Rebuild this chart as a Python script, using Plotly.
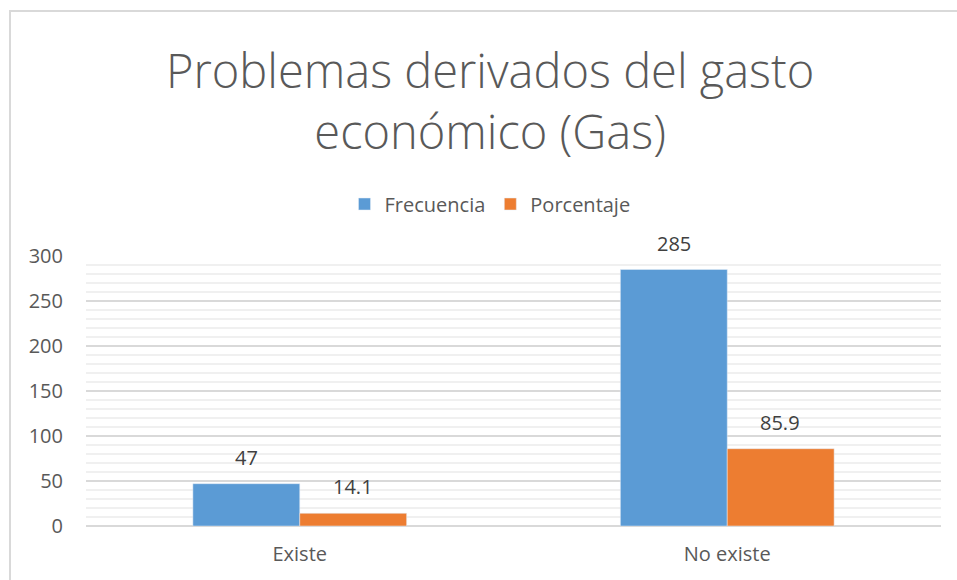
import plotly.graph_objects as go

categories = ["Existe", "No existe"]
frecuencia = [47, 285]
porcentaje = [14.1, 85.9]
freq_labels = ["47", "285"]
pct_labels = ["14.1", "85.9"]

BLUE = "#5B9BD5"
ORANGE = "#ED7D31"
TXT = "#595959"
FONT = "Open Sans"

W, H = 957, 580
L, R, T, B = 86, 16, 256, 54
pw = W - L - R
ph = H - T - B
Y0 = H - B  # pixel of y=0


def px_x(p):
    return (p - L) / pw


def px_y(p):
    return (Y0 - p) / ph


fig = go.Figure()
fig.add_trace(go.Bar(name="Frecuencia", x=categories, y=frecuencia, marker_color=BLUE))
fig.add_trace(go.Bar(name="Porcentaje", x=categories, y=porcentaje, marker_color=ORANGE))

annotations = []
for c, v, s in zip(categories, frecuencia, freq_labels):
    annotations.append(dict(x=c, y=v, text=s, xref="x", yref="y", showarrow=False,
                            xshift=-53, yanchor="bottom", yshift=11,
                            font=dict(family=FONT, size=20, color="#404040")))
for c, v, s in zip(categories, porcentaje, pct_labels):
    annotations.append(dict(x=c, y=v, text=s, xref="x", yref="y", showarrow=False,
                            xshift=53, yanchor="bottom", yshift=11,
                            font=dict(family=FONT, size=20, color="#404040")))

annotations.append(dict(
    text="Problemas derivados del gasto<br>económico (Gas)",
    xref="paper", yref="paper", x=px_x(490), y=px_y(100),
    xanchor="center", yanchor="middle", showarrow=False,
    font=dict(family=FONT, size=47, color=TXT, weight=300)))

fig.update_layout(
    width=W, height=H,
    margin=dict(l=L, r=R, t=T, b=B, pad=0, autoexpand=False),
    paper_bgcolor="white", plot_bgcolor="white",
    barmode="group", bargap=0.5, bargroupgap=0,
    annotations=annotations,
    showlegend=True,
    legend=dict(orientation="h", x=px_x(490), xanchor="center",
                y=px_y(204), yanchor="middle",
                font=dict(family=FONT, size=20, color=TXT),
                traceorder="normal"),
    font=dict(family=FONT, color=TXT),
    shapes=[dict(type="rect", xref="paper", yref="paper",
                 x0=px_x(10), x1=px_x(975),
                 y0=px_y(600), y1=px_y(11),
                 line=dict(color="#D9D9D9", width=2), layer="below")],
)
fig.update_yaxes(range=[0, 300], dtick=50, showgrid=True, gridcolor="#D9D9D9", gridwidth=1.5,
                 minor=dict(dtick=10, showgrid=True, gridcolor="#F0F0F0", gridwidth=1.5),
                 zeroline=True, zerolinecolor="#D9D9D9", zerolinewidth=1.5,
                 tickfont=dict(family=FONT, size=20, color=TXT), ticklabelstandoff=22,
                 showline=False, fixedrange=True, automargin=False)
fig.update_xaxes(tickfont=dict(family=FONT, size=20, color=TXT), showline=False,
                 ticklabelstandoff=14, fixedrange=True, automargin=False)

fig.write_html("out.html", config={"displayModeBar": False},
               post_script="document.body.style.margin='0px';document.body.style.overflow='hidden';")
